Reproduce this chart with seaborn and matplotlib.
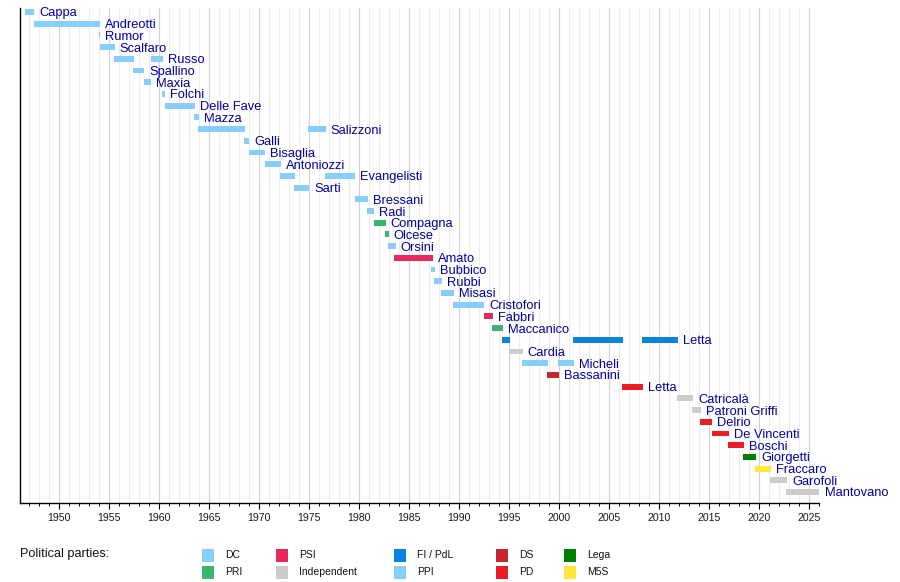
import matplotlib
matplotlib.use("Agg")
import matplotlib.pyplot as plt
import seaborn as sns
from matplotlib.patches import Rectangle

# ---------------- data ----------------
names = ["Cappa", "Andreotti", "Rumor", "Scalfaro", "Russo", "Spallino", "Maxia",
         "Folchi", "Delle Fave", "Mazza", "Salizzoni", "Galli", "Bisaglia",
         "Antoniozzi", "Evangelisti", "Sarti", "Bressani", "Radi", "Compagna",
         "Olcese", "Orsini", "Amato", "Bubbico", "Rubbi", "Misasi", "Cristofori",
         "Fabbri", "Maccanico", "Letta", "Cardia", "Micheli", "Bassanini",
         "Letta ", "Catricalà", "Patroni Griffi", "Delrio", "De Vincenti",
         "Boschi", "Giorgetti", "Fraccaro", "Garofoli", "Mantovano"]

bar_row = [0, 1, 2, 3, 4, 4, 5, 6, 7, 8, 9, 10, 10, 11, 12, 13, 14, 14, 15,
           16, 17, 18, 19, 20, 21, 22, 23, 24, 25, 26, 27, 28, 28, 28, 29,
           30, 30, 31, 32, 33, 34, 35, 36, 37, 38, 39, 40, 41]
bar_start = [1946.57, 1947.50, 1954.00, 1954.07, 1955.50, 1959.17, 1957.37,
             1958.47, 1960.30, 1960.57, 1963.50, 1963.90, 1974.90, 1968.50,
             1968.97, 1970.60, 1972.07, 1976.57, 1973.47, 1979.57, 1980.77,
             1981.47, 1982.57, 1982.90, 1983.52, 1987.20, 1987.50, 1988.23,
             1989.43, 1992.45, 1993.26, 1994.24, 2001.38, 2008.27, 1994.95,
             1996.25, 1999.87, 1998.78, 2006.30, 2011.78, 2013.30, 2014.10,
             2015.23, 2016.92, 2018.40, 2019.62, 2021.10, 2022.70]
bar_end = [1947.50, 1954.07, 1954.13, 1955.57, 1957.47, 1960.40, 1958.50,
           1959.23, 1960.63, 1963.57, 1963.97, 1968.57, 1976.67, 1969.00,
           1970.63, 1972.17, 1973.57, 1979.63, 1975.00, 1980.87, 1981.53,
           1982.67, 1982.97, 1983.67, 1987.36, 1987.60, 1988.30, 1989.53,
           1992.52, 1993.40, 1994.38, 1995.09, 2006.37, 2011.89, 1996.35,
           1998.88, 2001.52, 2000.00, 2008.37, 2013.40, 2014.17, 2015.30,
           2016.99, 2018.50, 2019.70, 2021.20, 2022.82, 2026.05]
bar_party = ["DC", "DC", "DC", "DC", "DC", "DC", "DC", "DC", "DC", "DC", "DC",
             "DC", "DC", "DC", "DC", "DC", "DC", "DC", "DC", "DC", "DC", "PRI",
             "PRI", "DC", "PSI", "DC", "DC", "DC", "DC", "PSI", "PRI",
             "FI / PdL", "FI / PdL", "FI / PdL", "Independent", "PPI", "PPI",
             "DS", "PD", "Independent", "Independent", "PD", "PD", "PD",
             "Lega", "M5S", "Independent", "Independent"]

parties = ["DC", "PRI", "PSI", "Independent", "FI / PdL", "PPI", "DS", "PD",
           "Lega", "M5S"]
party_colors = ["#87CEFA", "#3CB371", "#E8285A", "#CCCCCC", "#0A84DC",
                "#87CEFA", "#C8262F", "#EC1C27", "#008000", "#FFE83B"]

year_start, year_end = 1946.1, 2026.0
major_years = list(range(1950, 2026, 5))
minor_years = list(range(1947, 2027))

# ---------------- style ----------------
sns.set_theme(style="white")
plt.rcParams["font.family"] = ["Liberation Sans", "DejaVu Sans"]

fig = plt.figure(figsize=(9, 5.82), dpi=100)
ax = fig.add_axes([20 / 900, 1 - 503 / 582, (819.3 - 20) / 900, (503 - 8) / 582])

cmap = dict(zip(parties, party_colors))

# bars
for r, s, e, p in zip(bar_row, bar_start, bar_end, bar_party):
    ax.barh(r, e - s, left=s, height=0.5, color=cmap[p], edgecolor="none",
            zorder=3)

# labels at the end of the last bar of each row
last_end = {}
for r, e in zip(bar_row, bar_end):
    last_end[r] = max(last_end.get(r, -1e9), e)
for r, nm in enumerate(names):
    ax.annotate(nm.strip(), xy=(last_end[r], r), xytext=(3.6, 0),
                textcoords="offset points", va="center_baseline", ha="left",
                fontsize=9.3, color="#0000aa", zorder=4, annotation_clip=False)

ax.set_xlim(year_start, year_end)
ax.set_ylim(len(names) - 1 + 0.94, -0.34)
ax.set_yticks([])

ax.set_xticks(major_years)
ax.set_xticks(minor_years, minor=True)
ax.set_xticklabels([str(y) for y in major_years], fontsize=7.6, color="#1a1a1a")
ax.tick_params(axis="x", which="major", length=4, width=0.8, color="black",
               pad=3.5, direction="out", bottom=True)
ax.tick_params(axis="x", which="minor", length=2.5, width=0.7, color="black",
               direction="out", bottom=True)

ax.grid(False)
for y in minor_years:
    ax.axvline(y, color="#ededed", lw=0.8, zorder=1)
for y in major_years:
    ax.axvline(y, color="#d2d2d2", lw=0.8, zorder=1.5)

for side in ["top", "right"]:
    ax.spines[side].set_visible(False)
for side in ["left", "bottom"]:
    ax.spines[side].set_visible(True)
    ax.spines[side].set_color("black")
    ax.spines[side].set_linewidth(1.0)

# ---------------- legend ----------------
fig.text(20 / 900, 1 - 554 / 582, "Political parties:", fontsize=9.2,
         va="center", ha="left", color="#111111")
col_x = [202, 276, 394, 496, 564]
row_y = [555, 572]
for i, (p, c) in enumerate(zip(parties, party_colors)):
    cx = col_x[i // 2]
    cy = row_y[i % 2]
    fig.add_artist(Rectangle((cx / 900, 1 - (cy + 6.5) / 582), 12 / 900,
                             13 / 582, transform=fig.transFigure,
                             facecolor=c, edgecolor="none"))
    fig.text((cx + 23) / 900, 1 - cy / 582, p, fontsize=7.5, va="center",
             ha="left", color="#111111")

fig.savefig("out.png", dpi=100, facecolor="white")
